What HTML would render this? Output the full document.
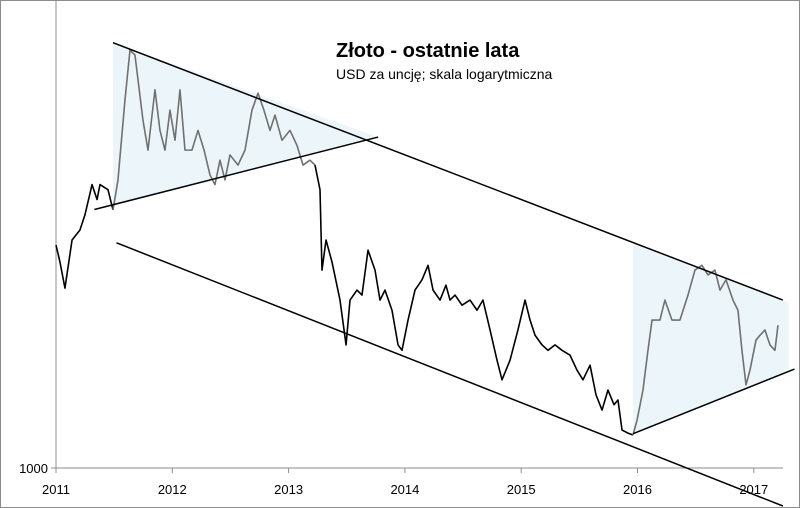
<!DOCTYPE html>
<html><head><meta charset="utf-8"><style>
html,body{margin:0;padding:0;background:#fff}
svg{display:block}
</style></head><body>
<svg id="chart" width="800" height="508" viewBox="0 0 800 508" xmlns="http://www.w3.org/2000/svg" font-family="Liberation Sans, sans-serif">
<rect x="0.5" y="0.5" width="799" height="507" fill="#fff" stroke="#8c8c8c" stroke-width="1"/>
<g id="shade"></g>
<g id="axes"></g>
<g id="series"></g>
<g id="trend"></g>
<text x="336" y="57" font-size="20" font-weight="bold" fill="#000">Złoto - ostatnie lata</text>
<text x="336" y="79" font-size="14" fill="#000">USD za uncję; skala logarytmiczna</text>
</svg>
<script>
const dates=[2011,2011.034,2011.077,2011.138,2011.206,2011.249,2011.31,2011.353,2011.378,2011.447,2011.49,2011.533,2011.593,2011.636,2011.679,2011.705,2011.748,2011.791,2011.851,2011.894,2011.937,2011.98,2012.023,2012.066,2012.109,2012.169,2012.221,2012.273,2012.324,2012.367,2012.41,2012.453,2012.496,2012.565,2012.625,2012.685,2012.737,2012.788,2012.84,2012.883,2012.943,2013.012,2013.072,2013.124,2013.184,2013.227,2013.27,2013.287,2013.322,2013.373,2013.442,2013.494,2013.528,2013.588,2013.631,2013.683,2013.743,2013.786,2013.829,2013.889,2013.941,2013.975,2014.027,2014.087,2014.147,2014.199,2014.242,2014.302,2014.353,2014.388,2014.431,2014.491,2014.56,2014.62,2014.671,2014.732,2014.792,2014.835,2014.904,2014.972,2015.033,2015.076,2015.119,2015.179,2015.23,2015.291,2015.351,2015.42,2015.48,2015.531,2015.592,2015.643,2015.695,2015.746,2015.798,2015.832,2015.867,2015.918,2015.961,2015.996,2016.047,2016.09,2016.125,2016.193,2016.236,2016.296,2016.365,2016.434,2016.494,2016.554,2016.606,2016.666,2016.709,2016.761,2016.821,2016.864,2016.898,2016.933,2016.967,2017.019,2017.053,2017.096,2017.139,2017.182,2017.208];
const prices=[1408,1372,1318,1419,1441,1475,1545,1510,1545,1533,1486,1556,1759,1899,1885,1815,1705,1629,1787,1679,1629,1732,1654,1787,1629,1629,1679,1629,1568,1545,1604,1556,1617,1592,1629,1732,1778,1732,1679,1719,1654,1679,1641,1592,1604,1592,1533,1355,1419,1372,1294,1208,1294,1314,1304,1397,1355,1294,1314,1274,1208,1198,1255,1314,1335,1365,1314,1294,1324,1294,1304,1284,1294,1274,1294,1236,1180,1145,1180,1236,1294,1255,1226,1208,1198,1208,1198,1189,1162,1145,1171,1119,1093,1127,1102,1110,1060,1055,1052,1076,1127,1198,1255,1255,1294,1255,1255,1304,1355,1365,1345,1355,1314,1335,1294,1274,1198,1136,1162,1217,1226,1236,1208,1198,1245];
const xTicks=[2011,2012,2013,2014,2015,2016,2017];
const yTicks=[1000];
const greyRanges=[[2011.49,2013.184],[2015.961,2017.3]];
const upperChannel=[[2011.49,1921],[2017.25,1294]];
const lowerChannel=[[2011.52,1413],[2017.25,1000*Math.pow(10,(468-506)/1500)]];
const tri1Lower=[[2011.33,1487],[2013.77,1662]];
const tri2Lower=[[2015.961,1054],[2017.35,1164]];

const NS='http://www.w3.org/2000/svg';
const x0=56,pxPerYear=116.3,y0=468,pxPerDecade=1500;
const X=d=>x0+(d-2011)*pxPerYear;
const Y=p=>y0-Math.log10(p/1000)*pxPerDecade;
function mk(tag,attrs,parent){const e=document.createElementNS(NS,tag);for(const k in attrs)e.setAttribute(k,attrs[k]);parent.appendChild(e);return e;}
const axes=document.getElementById('axes'),series=document.getElementById('series'),trend=document.getElementById('trend'),shade=document.getElementById('shade');
function lineAt(seg,d){const[[a,pa],[b,pb]]=seg;const t=(d-a)/(b-a);return Math.pow(10,Math.log10(pa)+t*(Math.log10(pb)-Math.log10(pa)));}

// shading
let s1=mk('polygon',{points:[[X(2011.49),Y(lineAt(upperChannel,2011.49))],[X(tri1Lower[1][0]),Y(tri1Lower[1][1])],[X(2011.49),Y(lineAt(tri1Lower,2011.49))]].map(p=>p.join(',')).join(' '),fill:'#ebf5fa'},shade);


let s2=mk('polygon',{points:[[X(2015.961),Y(lineAt(upperChannel,2015.961))],[X(2017.3),Y(lineAt(upperChannel,2017.3))],[X(2017.3),Y(lineAt(tri2Lower,2017.3))],[X(2015.961),Y(lineAt(tri2Lower,2015.961))]].map(p=>p.join(',')).join(' '),fill:'#ebf5fa'},shade);



// axes
let ya=mk('line',{x1:x0,y1:0,x2:x0,y2:y0,stroke:'#8c8c8c','stroke-width':1},axes);


let xa=mk('line',{x1:x0-5,y1:y0,x2:783,y2:y0,stroke:'#8c8c8c','stroke-width':1},axes);


xTicks.forEach(t=>{
  let tk=mk('line',{x1:X(t),y1:y0,x2:X(t),y2:y0+5,stroke:'#8c8c8c'},axes);
  
  
  let tx=mk('text',{x:X(t),y:y0+26,'font-size':13,'text-anchor':'middle',fill:'#000'},axes);
  
  
  tx.textContent=t;
});
yTicks.forEach(t=>{
  let tx=mk('text',{x:x0-8,y:Y(t)+5,'font-size':13,'text-anchor':'end',fill:'#000'},axes);
  
  
  tx.textContent=t;
});

// series
const isGrey=d=>greyRanges.some(r=>d>=r[0]&&d<=r[1]);
let cur=null,pts=[];
function flush(){if(pts.length>1){let p=mk('polyline',{points:pts.map(q=>q.join(',')).join(' '),fill:'none',stroke:cur?'#707070':'#000','stroke-width':1.6,'stroke-linejoin':'round'},series);

}}
dates.forEach((d,i)=>{const g=isGrey(d);const pt=[X(d),Y(prices[i])];if(cur===null)cur=g;if(g!==cur){pts.push(pt);flush();pts=[pt];cur=g;}else pts.push(pt);});
flush();

// trend lines
[[upperChannel,'upper-channel-line'],[lowerChannel,'lower-channel-line'],[tri1Lower,'triangle-2011-lower-line'],[tri2Lower,'triangle-2016-lower-line']].forEach(([s,n])=>{
  let l=mk('line',{x1:X(s[0][0]),y1:Y(s[0][1]),x2:X(s[1][0]),y2:Y(s[1][1]),stroke:'#000','stroke-width':1.5},trend);
  
  
});
</script>
</body></html>
